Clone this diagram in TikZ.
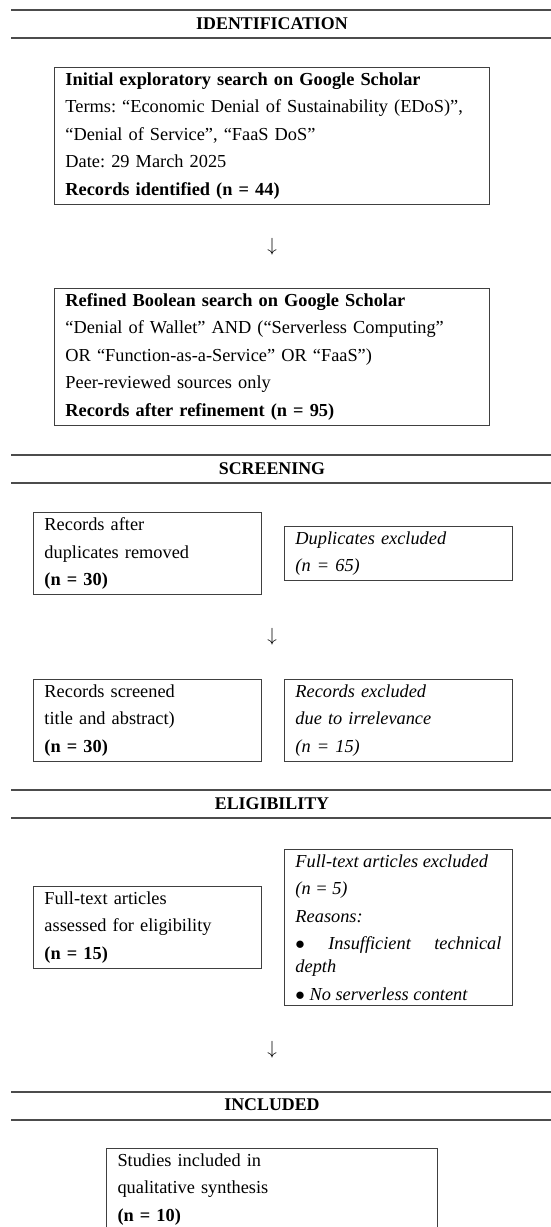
\documentclass[tikz,border=0pt]{standalone}
\usepackage{fontspec}
\setmainfont{Liberation Serif}
\usetikzlibrary{positioning}
\frenchspacing

\begin{document}
\begin{tikzpicture}[
        x=0.5263pt, y=-0.5263pt,
        rule/.style={draw=black!70, line width=0.6pt},
        phase/.style={font=\fontsize{9.4}{11}\selectfont\bfseries, inner sep=0pt},
        box/.style={draw=black!75, line width=0.5pt, inner xsep=5.8pt, inner ysep=2.6pt, align=left, font=\fontsize{9.65}{12.1}\selectfont},
        wide/.style={box, text width=217.4pt},
        half/.style={box, text width=108.4pt},
        excl/.style={half, font=\fontsize{9.65}{12.1}\selectfont\itshape},
        flowarrow/.style={inner sep=0pt, font=\fontsize{10}{12}\selectfont},
        node distance=11.6pt,
    ]
    \useasboundingbox (0,0) rectangle (551,1227);

    % identification
    \draw[rule] (11,10) -- (551,10);
    \node[phase] (ident) at (272,24) {IDENTIFICATION};
    \draw[rule] (11,38) -- (551,38);
    \node[wide, anchor=north] (initial) at (272,67) {\textbf{Initial exploratory search on Google Scholar}\\[2.4pt]
        Terms: “Economic Denial of Sustainability (EDoS)”,\\[2.4pt]
        “Denial of Service”, “FaaS DoS”\\[2.4pt]
        Date: 29 March 2025\\[2.4pt]
        \textbf{Records identified (n = 44)}};
    \node[flowarrow] (a1) at (272,247) {$\downarrow$};
    \node[wide, anchor=north] (refined) at (272,288) {\textbf{Refined Boolean search on Google Scholar}\\[2.4pt]
        “Denial of Wallet” AND (“Serverless Computing”\\[2.4pt]
        OR “Function-as-a-Service” OR “FaaS”)\\[2.4pt]
        Peer-reviewed sources only\\[2.4pt]
        \textbf{Records after refinement (n = 95)}};

    % screening
    \draw[rule] (11,455) -- (551,455);
    \node[phase] (screen) at (272,469) {SCREENING};
    \draw[rule] (11,483) -- (551,483);
    \node[half, anchor=west] (dedup) at (33,553.5) {Records after\\[2.4pt]
        duplicates removed\\[2.4pt]
        \textbf{(n = 30)}};
    \node[excl, right=of dedup] (dupex) {Duplicates excluded\\[2.4pt]
        (n = 65)};
    \node[flowarrow] (a2) at (272,637) {$\downarrow$};
    \node[half, anchor=north west] (screened) at (33,679) {Records screened\\[2.4pt]
        title and abstract)\\[2.4pt]
        \textbf{(n = 30)}};
    \node[excl, right=of screened] (irrel) {Records excluded\\[2.4pt]
        due to irrelevance\\[2.4pt]
        (n = 15)};

    % eligibility
    \draw[rule] (11,790) -- (551,790);
    \node[phase] (elig) at (272,804) {ELIGIBILITY};
    \draw[rule] (11,818) -- (551,818);
    \node[half, anchor=west] (fulltext) at (33,927.5) {Full-text articles\\[2.4pt]
        assessed for eligibility\\[2.4pt]
        \textbf{(n = 15)}};
    \node[excl, align=justify, right=of fulltext] (ftex) {Full-text articles excluded\\[2.4pt]
        (n = 5)\\[2.4pt]
        Reasons:\\[2.4pt]
        $\bullet$ Insufficient technical depth\\[2.4pt]
        $\bullet$ No serverless content};
    \node[flowarrow] (a3) at (272,1050) {$\downarrow$};

    % included
    \draw[rule] (11,1092) -- (551,1092);
    \node[phase] (incl) at (272,1105) {INCLUDED};
    \draw[rule] (11,1120) -- (551,1120);
    \node[box, text width=162.6pt, anchor=north] (synth) at (272,1148) {Studies included in\\[2.4pt]
        qualitative synthesis\\[2.4pt]
        \textbf{(n = 10)}};
\end{tikzpicture}
\end{document}
